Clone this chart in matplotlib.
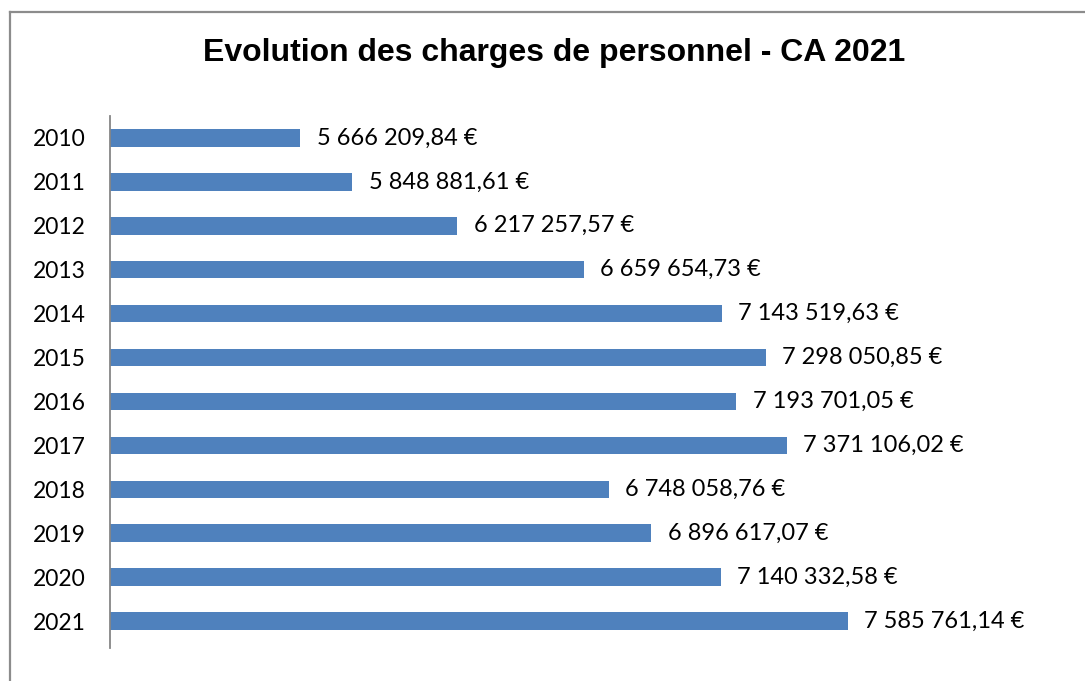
import matplotlib
matplotlib.use("Agg")
import matplotlib.pyplot as plt
from matplotlib.lines import Line2D

years = ["2010", "2011", "2012", "2013", "2014", "2015", "2016", "2017", "2018", "2019", "2020", "2021"]
values = [5666209.84, 5848881.61, 6217257.57, 6659654.73, 7143519.63, 7298050.85,
          7193701.05, 7371106.02, 6748058.76, 6896617.07, 7140332.58, 7585761.14]
title = "Evolution des charges de personnel - CA 2021"


def fmt(v):
    s = f"{v:,.2f}"
    ent, dec = s.split(".")
    return ent.replace(",", " ") + "," + dec + " €"


W, H = 1085, 681
fig = plt.figure(figsize=(W / 100, H / 100), dpi=100)
ax = fig.add_axes([110 / W, 1 - 643 / H, (966 - 110) / W, (643 - 116) / H])

pos = list(range(len(years)))
ax.barh(pos, values, height=0.4, color="#4F81BD", left=0)
ax.set_xlim(5e6, 8e6)
ax.set_ylim(len(years) - 0.5, -0.5)
ax.set_yticks(pos)
ax.set_yticklabels(years, fontsize=16.5, family="Lato")
ax.tick_params(axis="y", length=0, pad=17.5)
ax.set_xticks([])
for s in ["top", "right", "bottom"]:
    ax.spines[s].set_visible(False)
ax.spines["left"].set_color("#868686")
ax.spines["left"].set_linewidth(1.3)
ax.spines["left"].set_bounds(len(years) - 0.38, -0.5)

for p, v in zip(pos, values):
    ax.annotate(fmt(v), xy=(v, p), xytext=(12, 0), textcoords="offset points",
                va="center", ha="left", fontsize=17, family="Lato", color="#000000",
                annotation_clip=False)

fig.text(554 / W, 1 - 53 / H, title, ha="center", va="center", fontsize=23,
         fontweight="bold", family="Liberation Sans")

# outer frame (cropped at right and bottom)
fig.add_artist(Line2D([9.5 / W, 9.5 / W], [0, 1 - 12 / H], transform=fig.transFigure,
                      color="#8c8c8c", linewidth=1.6))
fig.add_artist(Line2D([9.5 / W, 1], [1 - 12 / H, 1 - 12 / H], transform=fig.transFigure,
                      color="#8c8c8c", linewidth=1.6))

fig.savefig("out.png", dpi=100)
